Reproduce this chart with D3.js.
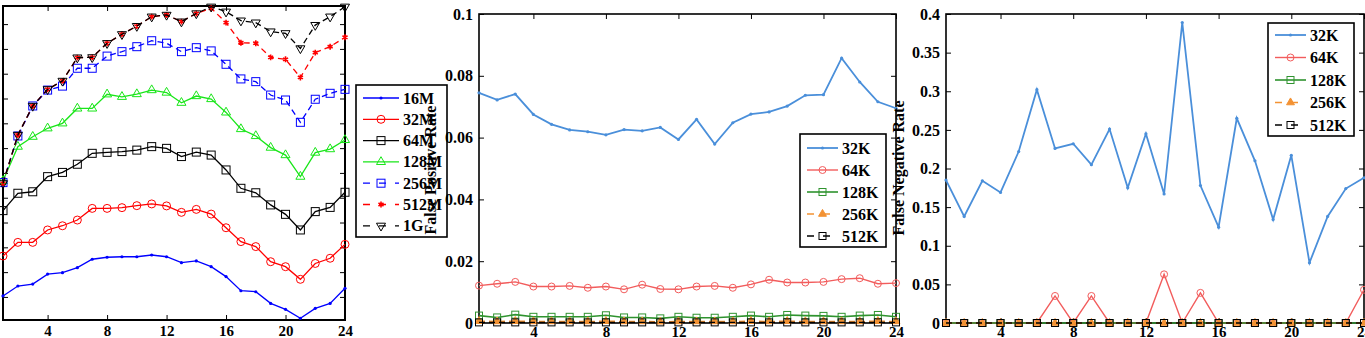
<!DOCTYPE html>
<html>
<head>
<meta charset="utf-8">
<script src="https://cdn.jsdelivr.net/npm/d3@7"></script>
<style>
  body { margin: 0; background: #fff; }
  svg text { font-family: "Liberation Serif", "Times New Roman", serif; font-weight: bold; fill: #000; }
</style>
</head>
<body>
<svg id="chart" width="1365" height="338"></svg>
<script>
// x axis: hour of day
const hours = d3.range(1, 25);
const xTicks = [4, 8, 12, 16, 20, 24];

// panel 1 (its y tick labels are cropped off in the source figure)
const memLabels = ["16M", "32M", "64M", "128M", "256M", "512M", "1G"];
const mem16M  = [1.04, 1.44, 1.52, 1.92, 1.98, 2.18, 2.52, 2.60, 2.62, 2.62, 2.69, 2.62, 2.38, 2.45, 2.22, 1.82, 1.25, 1.21, 0.74, 0.50, 0.14, 0.54, 0.74, 1.35];
const mem32M  = [2.65, 3.20, 3.20, 3.70, 3.87, 4.10, 4.57, 4.57, 4.60, 4.68, 4.75, 4.67, 4.41, 4.53, 4.34, 3.79, 3.23, 3.03, 2.42, 2.22, 1.71, 2.35, 2.56, 3.12];
const mem64M  = [4.48, 5.18, 5.24, 5.85, 6.02, 6.35, 6.79, 6.83, 6.86, 6.92, 7.06, 6.99, 6.66, 6.84, 6.72, 6.12, 5.38, 5.20, 4.71, 4.33, 3.70, 4.44, 4.61, 5.22];
const mem128M = [5.68, 7.06, 7.46, 7.80, 8.00, 8.60, 8.60, 9.17, 9.07, 9.18, 9.34, 9.24, 8.83, 9.10, 8.98, 8.44, 7.77, 7.49, 7.02, 6.72, 5.85, 6.82, 6.96, 7.33];
const mem256M = [5.61, 7.49, 8.70, 9.34, 9.50, 10.22, 10.22, 10.71, 10.89, 11.09, 11.33, 11.23, 10.89, 11.05, 10.92, 10.38, 9.79, 9.68, 9.14, 8.94, 8.04, 8.97, 9.21, 9.37];
const mem512M = [5.58, 7.53, 8.70, 9.37, 9.71, 10.65, 10.66, 11.23, 11.59, 11.92, 12.30, 12.37, 12.10, 12.43, 12.64, 12.06, 11.25, 11.23, 10.66, 10.58, 9.85, 10.85, 11.09, 11.47];
const mem1G   = [5.58, 7.53, 8.70, 9.37, 9.71, 10.65, 10.66, 11.23, 11.59, 11.92, 12.30, 12.37, 12.10, 12.43, 12.70, 12.50, 12.14, 12.06, 11.70, 11.63, 11.02, 11.96, 12.30, 12.70];
const memYTicks = d3.range(1, 13);

// panel 2: false positive rate
const cacheLabels = ["32K", "64K", "128K", "256K", "512K"];
const fp32K  = [0.0745, 0.0722, 0.0741, 0.0675, 0.0643, 0.0625, 0.0619, 0.0609, 0.0626, 0.0622, 0.0633, 0.0594, 0.0659, 0.0579, 0.0648, 0.0676, 0.0683, 0.0702, 0.0737, 0.0739, 0.0857, 0.0780, 0.0716, 0.0695];
const fp64K  = [0.0121, 0.0127, 0.0133, 0.0118, 0.0118, 0.0120, 0.0114, 0.0118, 0.0109, 0.0124, 0.0110, 0.0109, 0.0118, 0.0120, 0.0114, 0.0125, 0.0140, 0.0131, 0.0131, 0.0133, 0.0142, 0.0145, 0.0127, 0.0129];
const fp128K = [0.0024, 0.0018, 0.0027, 0.0020, 0.0020, 0.0020, 0.0020, 0.0025, 0.0018, 0.0018, 0.0015, 0.0020, 0.0017, 0.0017, 0.0020, 0.0024, 0.0020, 0.0026, 0.0024, 0.0023, 0.0020, 0.0024, 0.0026, 0.0020];
const fp256K = [0.0006, 0.0005, 0.0006, 0.0005, 0.0005, 0.0005, 0.0005, 0.0006, 0.0005, 0.0005, 0.0004, 0.0005, 0.0005, 0.0005, 0.0005, 0.0006, 0.0005, 0.0006, 0.0005, 0.0005, 0.0005, 0.0005, 0.0006, 0.0005];
const fp512K = [0.0002, 0.0002, 0.0002, 0.0002, 0.0002, 0.0002, 0.0002, 0.0002, 0.0002, 0.0002, 0.0002, 0.0002, 0.0002, 0.0002, 0.0002, 0.0002, 0.0002, 0.0002, 0.0002, 0.0002, 0.0002, 0.0002, 0.0002, 0.0002];
const fpYTicks = [0, 0.02, 0.04, 0.06, 0.08, 0.1];

// panel 3: false negative rate
const fn32K  = [0.185, 0.138, 0.184, 0.169, 0.222, 0.302, 0.226, 0.232, 0.205, 0.251, 0.175, 0.245, 0.167, 0.389, 0.178, 0.124, 0.265, 0.210, 0.134, 0.217, 0.078, 0.138, 0.174, 0.188];
const fn64K  = [0, 0, 0, 0, 0, 0, 0.035, 0, 0.035, 0, 0, 0, 0.063, 0, 0.039, 0, 0, 0, 0, 0, 0, 0, 0, 0.043];
const fn128K = [0, 0, 0, 0, 0, 0, 0, 0, 0, 0, 0, 0, 0, 0, 0, 0, 0, 0, 0, 0, 0, 0, 0, 0];
const fn256K = [0, 0, 0, 0, 0, 0, 0, 0, 0, 0, 0, 0, 0, 0, 0, 0, 0, 0, 0, 0, 0, 0, 0, 0];
const fn512K = [0, 0, 0, 0, 0, 0, 0, 0, 0, 0, 0, 0, 0, 0, 0, 0, 0, 0, 0, 0, 0, 0, 0, 0];
const fnYTicks = [0, 0.05, 0.1, 0.15, 0.2, 0.25, 0.3, 0.35, 0.4];

const svg = d3.select("#chart");

// styles for the two legends
const memStyles = [
    {color: "#0000ff", marker: "dot",      dash: null},
    {color: "#ff0000", marker: "circle",   dash: null},
    {color: "#000000", marker: "square",   dash: null},
    {color: "#19e619", marker: "triangle", dash: null},
    {color: "#0000ff", marker: "square",   dash: "6,4"},
    {color: "#ff0000", marker: "star",     dash: "6,4"},
    {color: "#000000", marker: "down",     dash: "6,4"}
];
const cacheStyles = [
    {color: "#4a8fda", marker: "dot",      dash: null,  width: 1.8},
    {color: "#f25c5c", marker: "circle",   dash: null,  width: 1.4},
    {color: "#2f932f", marker: "square",   dash: null,  width: 1.6},
    {color: "#f39233", marker: "ftriangle",dash: "6,4", width: 1.4},
    {color: "#000000", marker: "square",   dash: "6,4", width: 1.4}
];

/**
 * draw one marker of the given type at (x, y)
 */
function drawMarker(g, type, color, x, y, s){
    let sz = s || 8;
    if(type === "dot"){
        g.append("circle").attr("cx", x).attr("cy", y).attr("r", 1.6).style("fill", color);
    } else if(type === "circle"){
        g.append("circle").attr("cx", x).attr("cy", y).attr("r", sz/2)
            .style("fill", "none").style("stroke", color).style("stroke-width", 1);
    } else if(type === "square"){
        g.append("rect").attr("x", x - sz/2).attr("y", y - sz/2).attr("width", sz).attr("height", sz)
            .style("fill", "none").style("stroke", color).style("stroke-width", 1);
    } else if(type === "triangle" || type === "ftriangle" || type === "down"){
        let path = d3.symbol().type(d3.symbolTriangle).size(sz * sz * 0.55)();
        g.append("path").attr("d", path)
            .attr("transform", `translate(${x},${y})` + (type === "down" ? " rotate(180)" : ""))
            .style("fill", type === "ftriangle" ? color : "none")
            .style("stroke", color).style("stroke-width", 1);
    } else if(type === "star"){
        let path = d3.symbol().type(d3.symbolAsterisk).size(sz * 3)();
        g.append("path").attr("d", path).attr("transform", `translate(${x},${y})`)
            .style("fill", "none").style("stroke", color).style("stroke-width", 1.6);
    }
}

/**
 * draw one axes box: frame, inward ticks, lines, markers
 */
function drawPanel(p){
    let x = d3.scaleLinear().domain([1, 24]).range([p.left, p.right]);
    let y = d3.scaleLinear().domain(p.yDomain).range([p.bottom, p.top]);
    let g = svg.append("g");

    // frame
    g.append("rect")
        .attr("x", p.left).attr("y", p.top)
        .attr("width", p.right - p.left).attr("height", p.bottom - p.top)
        .style("fill", "none").style("stroke", "#000").style("stroke-width", p.frame);

    let fmt = p.yLabels ? (d => d === 0 ? "0" : String(+d.toFixed(2))) : (() => "");

    g.append("g").attr("transform", `translate(0,${p.bottom})`)
        .call(d3.axisBottom(x).tickValues(xTicks).tickSizeInner(-5).tickSizeOuter(0).tickPadding(p.xPad))
        .call(a => a.select(".domain").remove())
        .call(a => a.selectAll("text").style("font-size", "15px"));
    g.append("g").attr("transform", `translate(0,${p.top})`)
        .call(d3.axisTop(x).tickValues(xTicks).tickSizeInner(-5).tickSizeOuter(0).tickFormat(""))
        .call(a => a.select(".domain").remove());
    g.append("g").attr("transform", `translate(${p.left},0)`)
        .call(d3.axisLeft(y).tickValues(p.yTicks).tickSizeInner(-5).tickSizeOuter(0).tickPadding(6).tickFormat(fmt))
        .call(a => a.select(".domain").remove())
        .call(a => a.selectAll("text").style("font-size", "16px"));
    g.append("g").attr("transform", `translate(${p.right},0)`)
        .call(d3.axisRight(y).tickValues(p.yTicks).tickSizeInner(-5).tickSizeOuter(0).tickFormat(""))
        .call(a => a.select(".domain").remove());
    g.selectAll(".tick line").style("stroke", "#000");

    let line = d3.line().x((d, i) => x(hours[i])).y(d => y(d));

    p.series.forEach(function(s, k){
        let st = p.styles[k];
        g.append("path")
            .attr("d", line(s))
            .style("fill", "none")
            .style("stroke", st.color)
            .style("stroke-width", st.width || 1.3)
            .style("stroke-dasharray", st.dash);
        let mg = g.append("g");
        s.forEach((v, i) => drawMarker(mg, st.marker, st.color, x(hours[i]), y(v), p.markerSize));
    });

    // legend
    let L = p.legend;
    let lg = svg.append("g");
    lg.append("rect")
        .attr("x", L.x).attr("y", L.y).attr("width", L.w).attr("height", L.h)
        .style("fill", "#fff").style("stroke", "#000").style("stroke-width", 1.6);
    p.names.forEach(function(name, k){
        let st = p.styles[k];
        let yy = L.y + L.first + k * L.step;
        lg.append("line")
            .attr("x1", L.x + 7).attr("x2", L.x + 7 + L.line)
            .attr("y1", yy).attr("y2", yy)
            .style("stroke", st.color)
            .style("stroke-width", st.width || 1.3)
            .style("stroke-dasharray", st.dash ? "7,9" : null);
        drawMarker(lg, st.marker, st.color, L.x + 7 + L.line/2, yy, p.markerSize);
        lg.append("text")
            .attr("x", L.x + 11 + L.line).attr("y", yy)
            .attr("dominant-baseline", "central")
            .style("font-size", "16px")
            .text(name);
    });
}

drawPanel({
    left: 3, right: 345, top: 6, bottom: 320, frame: 2, xPad: 5,
    yDomain: [0.07, 12.73], yTicks: memYTicks, yLabels: false,
    series: [mem16M, mem32M, mem64M, mem128M, mem256M, mem512M, mem1G],
    names: memLabels, styles: memStyles, markerSize: 8,
    legend: {x: 356, y: 85, w: 91, h: 152, first: 13, step: 21.3, line: 36}
});

drawPanel({
    left: 479, right: 896, top: 14, bottom: 323, frame: 1.6, xPad: 3,
    yDomain: [0, 0.1], yTicks: fpYTicks, yLabels: true,
    series: [fp32K, fp64K, fp128K, fp256K, fp512K],
    names: cacheLabels, styles: cacheStyles, markerSize: 7,
    legend: {x: 800, y: 134, w: 86, h: 113, first: 14, step: 22, line: 31}
});

drawPanel({
    left: 946, right: 1364, top: 14, bottom: 323, frame: 1.6, xPad: 3,
    yDomain: [0, 0.4], yTicks: fnYTicks, yLabels: true,
    series: [fn32K, fn64K, fn128K, fn256K, fn512K],
    names: cacheLabels, styles: cacheStyles, markerSize: 7,
    legend: {x: 1268, y: 23, w: 86, h: 113, first: 12, step: 22.5, line: 31}
});

// y axis titles, drawn last: they overlap the neighbouring panels
[["False Positive Rate", 430, 170], ["False Negative Rate", 898, 168]].forEach(function(t){
    svg.append("text")
        .attr("transform", `translate(${t[1]},${t[2]}) rotate(-90)`)
        .attr("text-anchor", "middle")
        .attr("dominant-baseline", "central")
        .style("font-size", "16px")
        .text(t[0]);
});
</script>
</body>
</html>
